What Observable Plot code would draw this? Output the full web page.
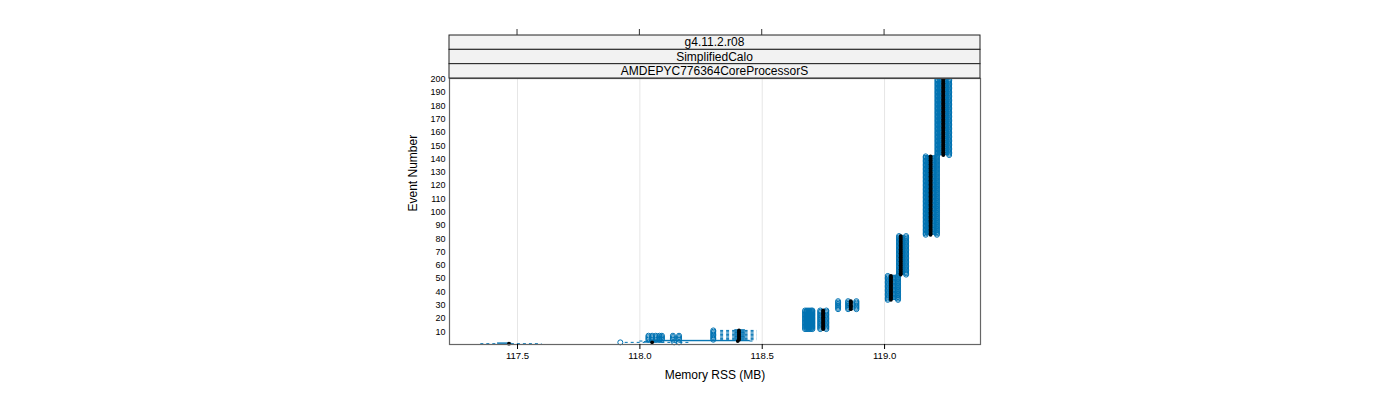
<!DOCTYPE html>
<html><head><meta charset="utf-8">
<script src="https://cdn.jsdelivr.net/npm/d3@7"></script>
<script src="https://cdn.jsdelivr.net/npm/@observablehq/plot@0.6"></script>
<style>
body{margin:0;background:#fff;}
svg{font-family:"Liberation Sans",Arial,Helvetica,sans-serif;}
</style>
</head><body><div id="chart"></div>
<script>
// ---- data ----
const stripLabels = ["g4.11.2.r08", "SimplifiedCalo", "AMDEPYC776364CoreProcessorS"];
const xTicks = [117.5, 118.0, 118.5, 119.0];
const yTicks = [10,20,30,40,50,60,70,80,90,100,110,120,130,140,150,160,170,180,190,200];
const xLabel = "Memory RSS (MB)";
const yLabel = "Event Number";

// groups of consecutive events that share the same box-and-whisker summary
const groupFirst = [1,      2,      3,      4,      8,      12,     27,     34,     53,     83,     143];
const groupLast  = [1,      2,      3,      7,      11,     26,     33,     52,     82,     142,    200];
const whiskerLo  = [117.35, 117.94, 118.00, 118.33, 118.33, 118.742, 118.855, 119.018, 119.060, 119.167, 119.216];
const boxQ1      = [117.42, 118.02, 118.06, 118.39, 118.39, 118.746, 118.858, 119.020, 119.062, 119.170, 119.218];
const boxMed     = [117.465,118.05, 118.40, 118.405,118.405,118.749, 118.862, 119.026, 119.066, 119.188, 119.240];
const boxQ3      = [117.475,118.09, 118.45, 118.43, 118.43, 118.755, 118.868, 119.045, 119.080, 119.212, 119.262];
const whiskerHi  = [117.60, 118.21, 118.47, 118.48, 118.48, 118.760, 118.875, 119.050, 119.085, 119.215, 119.264];
const outlierVals = [
  [],
  [117.92, 118.14, 118.16],
  [],
  [118.035, 118.05, 118.065, 118.08, 118.09, 118.135, 118.16, 118.30],
  [118.30],
  [118.675, 118.683, 118.691, 118.699, 118.705, 118.737, 118.762],
  [118.81, 118.851, 118.885],
  [119.013, 119.055],
  [119.059, 119.088],
  [119.168, 119.214],
  [119.216, 119.264]
];

// ---- build tables ----
const rows = [], outs = [];
groupFirst.forEach((f, i) => {
  for (let e = f; e <= groupLast[i]; e++) {
    rows.push({event: e, lo: whiskerLo[i], q1: boxQ1[i], med: boxMed[i], q3: boxQ3[i], hi: whiskerHi[i]});
    outlierVals[i].forEach(v => outs.push({event: e, x: v}));
  }
});

const blue = "#0072B2";
const plot = Plot.plot({
  width: 1400, height: 400,
  marginLeft: 449, marginRight: 420, marginTop: 78, marginBottom: 56,
  x: {domain: [117.222, 119.392]},
  y: {domain: [0.4, 200.6]},
  style: {fontFamily: '"Liberation Sans", Arial, Helvetica, sans-serif', background: "white", color: "black"},
  marks: [
    Plot.gridX(xTicks, {stroke: "#e6e6e6", strokeOpacity: 1}),
    Plot.ruleY(rows, {y: "event", x1: "lo", x2: "q1", stroke: blue, strokeDasharray: "3,3"}),
    Plot.ruleY(rows, {y: "event", x1: "q3", x2: "hi", stroke: blue, strokeDasharray: "3,3"}),
    Plot.rect(rows, {x1: "q1", x2: "q3", y1: d => d.event - 0.3, y2: d => d.event + 0.3, fill: blue, stroke: blue, strokeWidth: 0.6}),
    Plot.dot(outs, {x: "x", y: "event", r: 2.5, stroke: blue, strokeWidth: 1, fill: "none"}),
    Plot.dot(rows, {x: "med", y: "event", r: 1.9, fill: "black", stroke: "none"}),
    Plot.frame({stroke: "#666", strokeWidth: 1.2}),
    Plot.axisX(xTicks, {tickSize: 5, tickPadding: 3, tickFormat: d3.format(".1f"), fontSize: 9.6, label: null}),
    Plot.axisY(yTicks, {tickSize: 0, tickPadding: 4, fontSize: 9, label: null}),
    Plot.text([xLabel], {frameAnchor: "bottom", dy: 34, fontSize: 12}),
    Plot.text([yLabel], {frameAnchor: "left", rotate: -90, dx: -36, fontSize: 12})
  ]
});
document.getElementById("chart").appendChild(plot);

// strips and top ticks (lattice style)
const svgSel = d3.select(plot);
const xs = plot.scale("x");
const [fx0, fx1] = xs.range;
const stripH = 14.33;
const stripTop = 78 - stripLabels.length * stripH;
const g = svgSel.append("g");
stripLabels.forEach((lab, i) => {
  const y0 = stripTop + i * stripH;
  g.append("rect").attr("x", fx0).attr("y", y0).attr("width", fx1 - fx0).attr("height", stripH)
    .attr("fill", "#f2f2f2").attr("stroke", "#222").attr("stroke-width", 1);
  g.append("text").attr("x", (fx0 + fx1) / 2).attr("y", y0 + stripH / 2).attr("dy", "0.36em")
    .attr("text-anchor", "middle").attr("font-size", 12).attr("fill", "black").text(lab);
});
xTicks.forEach(t => {
  g.append("line").attr("x1", xs.apply(t)).attr("x2", xs.apply(t))
    .attr("y1", stripTop - 6).attr("y2", stripTop).attr("stroke", "#333");
});
</script>
</body></html>
